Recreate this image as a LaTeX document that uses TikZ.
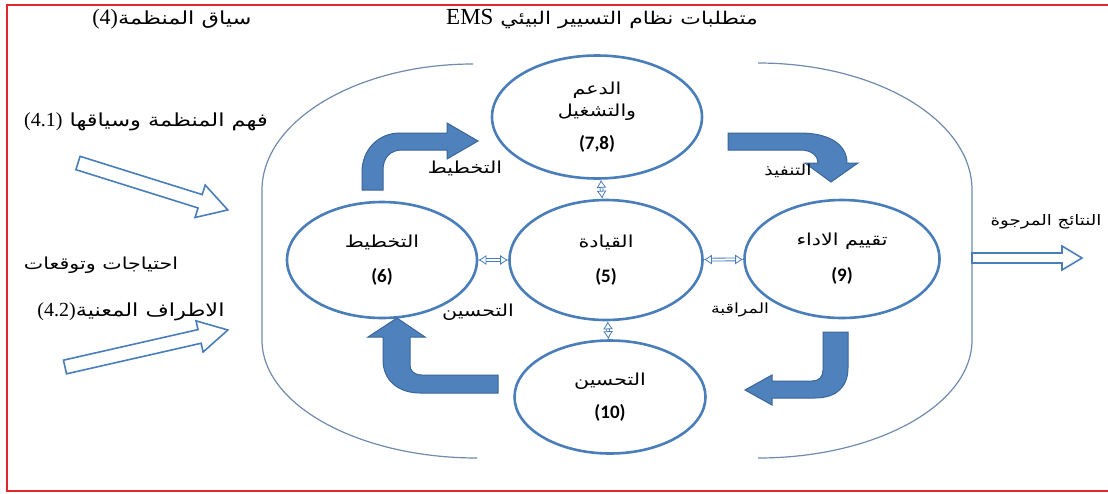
\documentclass[tikz,border=0pt]{standalone}
\usepackage{fontspec}
\setmainfont{Liberation Serif}
\newfontfamily\arabicfont[Script=Arabic, FakeStretch=1.25]{DejaVu Sans}
\newfontfamily\numfont{Carlito}
\usetikzlibrary{shapes.geometric,arrows.meta}
\TeXXeTstate=1
\definecolor{stageblue}{HTML}{4A7EBB}
\definecolor{arrowfill}{HTML}{4F81BD}
\definecolor{arrowedge}{HTML}{3A6699}
\definecolor{shellblue}{HTML}{6F8BAE}
\definecolor{framered}{HTML}{E2262B}
\newcommand{\artext}[1]{{\arabicfont\beginR #1\endR}}
\newcommand{\fs}[1]{\fontsize{#1pt}{#1pt}\selectfont}
\tikzset{
  stage/.style={ellipse, draw=stageblue, line width=2.6pt, inner sep=0pt, align=center,
    font=\fs{16.5}},
  lbl/.style={font=\fs{15}, inner sep=1pt},
  link/.style={draw=stageblue, line width=0.8pt, double, double distance=2pt,
    {Latex[open,length=8pt,width=10pt]}-{Latex[open,length=8pt,width=10pt]}},
  bigarrow/.style={fill=arrowfill, draw=arrowedge, line width=1pt},
  hollow/.style={draw=stageblue, line width=1.6pt, fill=white, line join=miter},
  shell/.style={draw=shellblue, line width=1.2pt},
}
\begin{document}
\begin{tikzpicture}[x=1pt, y=-1pt]
\useasboundingbox (0,0) rectangle (1108,493);
\draw[framered, line width=2pt] (1110,5) -- (7,5) -- (7,491) -- (1110,491);

\draw[shell] (473,64) .. controls (357,64) and (262,121) .. (262,190) -- (262,340) .. controls (262,405) and (359,458) .. (477,458);
\draw[shell] (758,63) .. controls (876,63) and (972,120) .. (972,190) -- (972,340) .. controls (972,405) and (876,458) .. (758,458);

\node[lbl, font=\fs{18}] (context) at (172,19) {\artext{سياق المنظمة\beginL{\rmfamily\fs{22}(4)}\endL}};
\node[lbl, font=\fs{17.5}] (title) at (602,19) {\artext{متطلبات نظام التسيير البيئي \beginL{\rmfamily\fs{23}EMS}\endL}};

\node[stage, minimum width=210pt, minimum height=123pt] (support) at (597,117)
  {\artext{الدعم}\\[6pt]\artext{والتشغيل}\\[14pt]\textnormal{\numfont\bfseries\fs{19}(7,8)}};
\node[stage, minimum width=190pt, minimum height=116pt] (plan) at (382,260)
  {\artext{التخطيط}\\[17pt]\textnormal{\numfont\bfseries\fs{19}(6)}};
\node[stage, minimum width=193pt, minimum height=120pt] (leader) at (606,260)
  {\artext{القيادة}\\[17pt]\textnormal{\numfont\bfseries\fs{19}(5)}};
\node[stage, minimum width=195pt, minimum height=118pt] (perf) at (842,259)
  {\artext{تقييم الاداء}\\[17pt]\textnormal{\numfont\bfseries\fs{19}(9)}};
\node[stage, minimum width=191pt, minimum height=113pt] (improve) at (610,397)
  {\artext{التحسين}\\[14pt]\textnormal{\numfont\bfseries\fs{19}(10)}};

\draw[link] (support) -- (leader);
\draw[link] (plan) -- (leader);
\draw[link] (leader) -- (perf);
\draw[link] (leader) -- (improve);

\draw[bigarrow] (362,190) -- (362,172) .. controls (362,150) and (378,133) .. (400,133) -- (447,133) -- (447,123) -- (478,141) -- (447,159) -- (447,150) -- (402,150) .. controls (390,150) and (383,158) .. (383,170) -- (383,190) -- cycle;
\draw[bigarrow] (728,133) -- (800,133) .. controls (830,133) and (847,145) .. (847,163) -- (858,163) -- (831,182) -- (805,163) -- (818,163) .. controls (818,156) and (812,150) .. (800,150) -- (728,150) -- cycle;
\draw[bigarrow] (823,332) -- (848,332) -- (848,368) .. controls (848,387) and (836,398) .. (815,398) -- (772,398) -- (772,405) -- (745,390) -- (772,375) -- (772,381) -- (812,381) .. controls (819,381) and (823,377) .. (823,370) -- cycle;
\draw[bigarrow] (498,375) -- (498,393) -- (420,393) .. controls (398,393) and (383,380) .. (383,360) -- (383,337) -- (368,337) -- (397,318) -- (425,337) -- (410,337) -- (410,365) .. controls (410,371) and (414,375) .. (422,375) -- cycle;

\node[lbl, font=\fs{16.5}] (lplan) at (465,168) {\artext{التخطيط}};
\node[lbl, font=\fs{15}] (ldo) at (788,171) {\artext{التنفيذ}};
\node[lbl, font=\fs{16.5}] (limprove) at (478,312) {\artext{التحسين}};
\node[lbl, font=\fs{14}] (lmonitor) at (740,310) {\artext{المراقبة}};

\node[lbl, font=\fs{18}] (understand) at (146,122) {\artext{فهم المنظمة وسياقها \beginL{\rmfamily\fs{20}(4.1)}\endL}};
\node[lbl, font=\fs{16.5}] (needs) at (101,265) {\artext{احتياجات وتوقعات}};
\node[lbl, font=\fs{18}] (parties) at (131,312) {\artext{الاطراف المعنية\beginL{\rmfamily\fs{20}(4.2)}\endL}};
\node[lbl, font=\fs{14.5}] (results) at (1046,222) {\artext{النتائج المرجوة}};

\draw[hollow, shift={(78,163)}, rotate=-17.4] (0,-7) -- (128,-7) -- (128,-17) -- (157,0) -- (128,17) -- (128,7) -- (0,7) -- cycle;
\draw[hollow, shift={(65,367)}, rotate=12.8] (0,-7) -- (138,-7) -- (138,-16) -- (167,0) -- (138,16) -- (138,7) -- (0,7) -- cycle;
\draw[hollow, shift={(972,258)}] (0,-5) -- (90,-5) -- (90,-12) -- (110,0) -- (90,12) -- (90,5) -- (0,5) -- cycle;
\end{tikzpicture}
\end{document}
